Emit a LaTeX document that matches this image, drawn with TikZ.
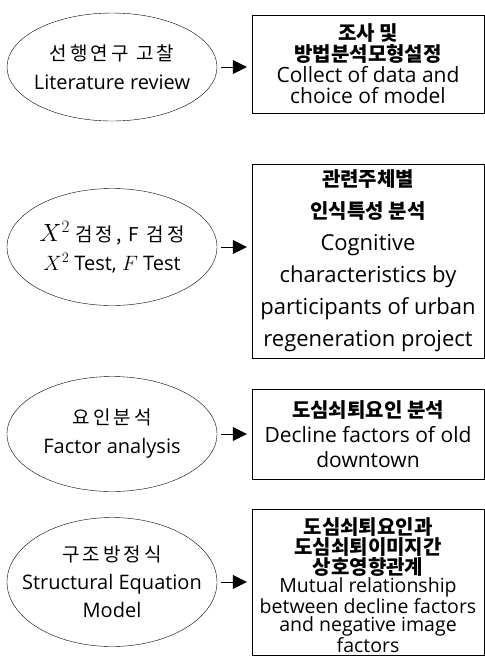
\documentclass[tikz,border=0pt]{standalone}
\usepackage{fontspec}
\usetikzlibrary{shapes.geometric,arrows.meta}
\setmainfont{Open Sans}
\newfontfamily\kr{Noto Sans CJK KR}
\newfontfamily\krsp[LetterSpace=16]{Noto Sans CJK KR}
\newcommand\hd[1]{{\kr\bfseries\fontsize{20}{20}\selectfont #1}}
\newcommand\ko[1]{{\krsp\fontsize{19}{19}\selectfont #1}}

\begin{document}
\begin{tikzpicture}[x=1pt,y=-1pt,
    oval/.style={draw,ellipse,minimum width=210pt,inner xsep=-20pt,inner ysep=0pt,align=center,
      font=\fontsize{20}{29}\selectfont},
    box/.style={draw,rectangle,minimum width=232pt,inner sep=0pt,align=center},
    arr/.style={-{Triangle[length=14pt,width=14pt]},thin}]
  \useasboundingbox (0,0) rectangle (485,657);
  % methods
  \node[oval,minimum height=108pt] (e1) at (112,67) {\ko{선행연구 고찰}\\Literature review};
  \node[oval,minimum height=117pt] (e2) at (112,247) {{\fontsize{24}{24}\selectfont$X^2$} \ko{검정, F 검정}\\$X^2$ Test, $F$ Test};
  \node[oval,minimum height=115pt] (e3) at (112,434) {\ko{요인분석}\\Factor analysis};
  \node[oval,minimum height=129pt,font=\fontsize{20}{28}\selectfont] (e4) at (112,582) {\ko{구조방정식}\\Structural Equation\\Model};
  % results
  \node[box,minimum height=98pt,font=\fontsize{21}{21}\selectfont] (b1) at (368,64)
    {\hd{조사 및}\\\hd{방법분석모형설정}\\Collect of data and\\choice of model};
  \node[box,minimum height=194pt,font=\fontsize{22}{32}\selectfont] (b2) at (368,261)
    {\hd{관련주체별}\\\hd{인식특성 분석}\\Cognitive\\characteristics by\\participants of urban\\regeneration project};
  \node[box,minimum height=90pt,font=\fontsize{21}{25}\selectfont] (b3) at (368,434)
    {\hd{도심쇠퇴요인 분석}\\Decline factors of old\\downtown};
  \node[box,minimum height=146pt] (b4) at (368,582.5) {};
  \node[align=center,inner sep=0pt,font=\fontsize{19.5}{18.6}\selectfont] (t4) at (368,585)
    {\hd{도심쇠퇴요인과}\\\hd{도심쇠퇴이미지간}\\\hd{상호영향관계}\\Mutual relationship\\between decline factors\\and negative image\\factors};
  \foreach \i in {1,...,4}
    \draw[arr] ([xshift=4pt]e\i.east) -- ([xshift=-5pt]e\i.east -| b\i.west);
\end{tikzpicture}
\end{document}
